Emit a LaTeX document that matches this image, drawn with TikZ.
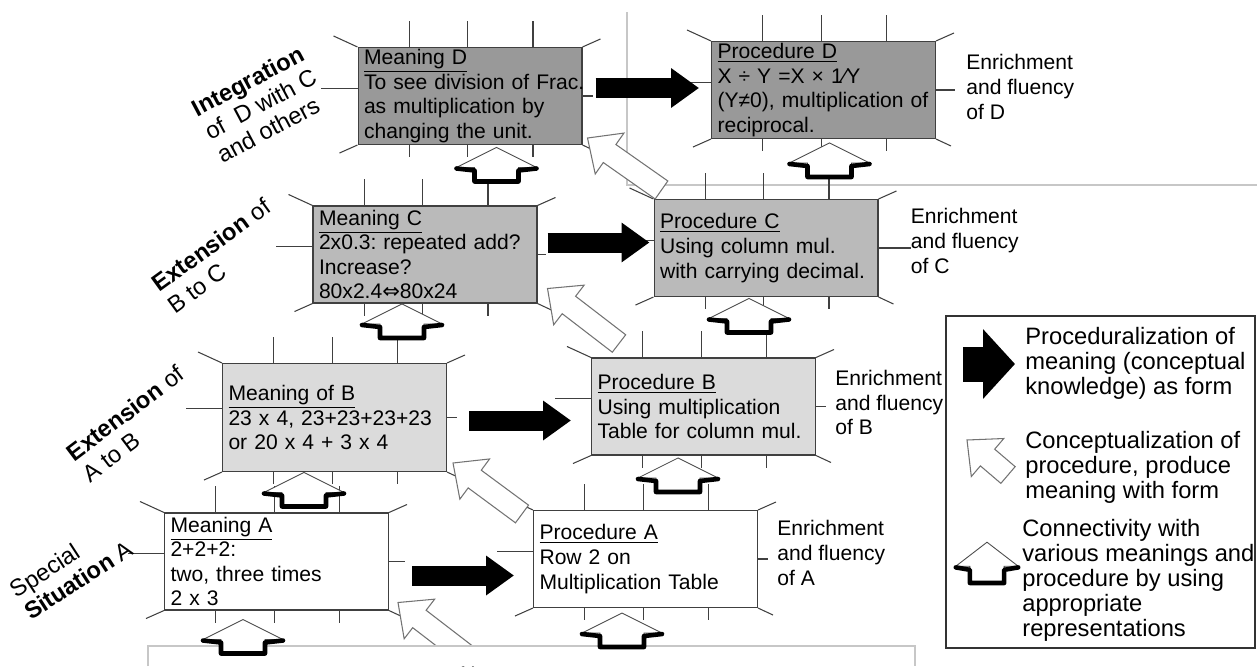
\documentclass[tikz,border=0pt]{standalone}
\usepackage{fontspec}
\setmainfont{Liberation Sans}
\newfontfamily\symfont{DejaVu Sans}
\usetikzlibrary{calc,arrows.meta}
\frenchspacing

\newcommand\boxfont{\fontsize{12}{14}\selectfont}
\newcommand\sidefont{\fontsize{12}{14}\selectfont}
\newcommand\legfont{\fontsize{13.5}{14.2}\selectfont}
\newcommand\lblfont{\fontsize{13.5}{15}\selectfont}

% rays round a box: #1 node, #2 length of the right ray
\newcommand\rays[2]{%
  \foreach \fr in {0.23,0.49,0.78}{
    \draw[ray] ($(#1.north west)!\fr!(#1.north east)$) -- ++(0,-26);
    \draw[ray] ($(#1.south west)!\fr!(#1.south east)$) -- ++(0,12);
  }
  \draw[ray] ($(#1.north west)!0.42!(#1.south west)$) -- ++(-36,0);
  \draw[ray] ($(#1.north east)!0.5!(#1.south east)$) -- ++(#2,0);
  \draw[ray] (#1.north west) -- ++(-24,-11);
  \draw[ray] (#1.north east) -- ++(18,-8);
  \draw[ray] (#1.south west) -- ++(-18,8);
  \draw[ray] (#1.south east) -- ++(15,7);
}

% white arrow: #1 tail, #2 tip
\newcommand\hollowarr[2]{%
  \coordinate (hb) at ($(#2)!0.54cm!(#1)$);
  \filldraw[hollow] ($(#1)!0.22cm!90:(#2)$) -- ($(hb)!0.22cm!90:(#2)$)
    -- ($(hb)!0.5cm!90:(#2)$) -- (#2) -- ($(hb)!0.5cm!-90:(#2)$)
    -- ($(hb)!0.22cm!-90:(#2)$) -- ($(#1)!0.22cm!-90:(#2)$) -- cycle;
}

\tikzset{
  box/.style={draw=black!75, line width=0.6pt, minimum width=4.48cm, minimum height=1.94cm,
    text width=4.24cm, inner xsep=0.12cm, inner ysep=0pt, align=left, font=\boxfont},
  ray/.style={draw=black!75, line width=0.6pt},
  blk/.style={line width=0.4cm, -{Triangle[width=0.76cm,length=0.56cm]}},
  blkbig/.style={line width=0.7cm, -{Triangle[width=1.36cm,length=0.64cm]}},
  hollow/.style={fill=white, draw=black!55, line width=0.6pt},
  frame/.style={draw=black!22, line width=0.8pt},
  side/.style={anchor=west, align=left, inner sep=0pt, font=\sidefont},
  leg/.style={anchor=west, align=left, inner sep=0pt, font=\legfont},
  lbl/.style={anchor=west, align=left, inner sep=0pt, font=\lblfont},
  uparr/.pic={
    \filldraw[fill=white, draw=black!70, line width=0.5pt]
      (0,-34) -- (40,-14) -- (22,-14) -- (22,0) -- (-22,0) -- (-22,-14) -- (-40,-14) -- cycle;
    \draw[line width=2.6pt, line join=round, line cap=round]
      (-40,-13) -- (-22,-11) -- (-22,0) -- (22,0) -- (22,-11) -- (40,-13);
  }
}

\begin{document}
\begin{tikzpicture}[x=0.02cm, y=-0.02cm]
  \useasboundingbox (0,0) rectangle (1257,666);
  % frames
  \draw[frame] (627,12) -- (627,185) -- (1257,185);

  % boxes
  \node[box, fill=black!40] (mD) at (470,96)
    {\underline{Meaning D}\\\mbox{To see division of Frac.}\\as multiplication by\\changing the unit.};
  \node[box, fill=black!40] (pD) at (823.5,90)
    {\underline{Procedure D}\\X ÷ Y =X × 1⁄Y\\\mbox{(Y≠0), multiplication of}\\reciprocal.};
  \node[box, fill=black!27] (mC) at (425,254.5)
    {\underline{Meaning C}\\2x0.3: repeated add?\\Increase?\\80x2.4{\symfont ⇔}80x24};
  \node[box, fill=black!27] (pC) at (766,248)
    {\underline{Procedure C}\\Using column mul.\\\mbox{with carrying decimal.}};
  \node[box, fill=black!14, minimum height=2.16cm] (mB) at (334.5,417.5)
    {\underline{Meaning of B}\\\mbox{23 x 4, 23+23+23+23}\\or 20 x 4 + 3 x 4};
  \node[box, fill=black!14] (pB) at (703.5,406.5)
    {\underline{Procedure B}\\Using multiplication\\\mbox{Table for column mul.}};
  \node[box, fill=white] (mA) at (276.5,561.5)
    {\underline{Meaning A}\\2+2+2:\\two, three times\\2 x 3};
  \node[box, fill=white] (pA) at (645.5,559)
    {\underline{Procedure A}\\Row 2 on\\Multiplication Table};

  % rays
  \rays{mD}{10}
  \rays{pD}{19}
  \rays{mC}{8}
  \rays{pC}{32}
  \rays{mB}{10}
  \rays{pB}{10}
  \rays{mA}{16}
  \rays{pA}{10}

  % meaning -> procedure
  \coordinate (dS) at ($(mD.east)+(13,-8)$);  \coordinate (dE) at ($(pD.west)+(-12,0)$);
  \coordinate (cS) at ($(mC.east)+(10,-12)$); \coordinate (cE) at ($(pC.west)+(-4,0)$);
  \coordinate (bS) at ($(mB.east)+(22,3)$);   \coordinate (bE) at ($(pB.west)+(-20,0)$);
  \coordinate (aS) at ($(mA.east)+(23,14)$);  \coordinate (aE) at ($(pA.west)+(-19,0)$);
  \draw[blk] (dS) -- (dS -| dE);
  \draw[blk] (cS) -- (cS -| cE);
  \draw[blk] (bS) -- (bS -| bE);
  \draw[blk] (aS) -- (aS -| aE);

  % procedure -> meaning
  \hollowarr{$(pC.north west)+(8,-9)$}{$(mD.south east)+(5,-7)$}
  \hollowarr{$(pB.north west)+(28,-14)$}{$(mC.south east)+(10,-15)$}
  \hollowarr{$(pA.north west)+(-11,4)$}{$(mB.south east)+(6,-9)$}
  \hollowarr{$(mA.south east)+(87,52)$}{$(mA.south east)+(9,-8)$}

  \filldraw[frame, fill=white] (148,666) -- (148,646) -- (915,646) -- (915,666);

  % connectivity
  \pic at ($(mC.north west)+(184,-24)$) {uparr};
  \pic at ($(pC.north west)+(176,-22)$) {uparr};
  \pic at ($(mB.north west)+(180,-25)$) {uparr};
  \pic at ($(pB.north west)+(158,-25)$) {uparr};
  \pic at ($(mA.north west)+(140,-6)$) {uparr};
  \pic at ($(pA.north west)+(145,-18)$) {uparr};
  \pic at ($(mA.south west)+(79,43)$) {uparr};
  \pic at ($(pA.south west)+(89,39)$) {uparr};

  % enrichment
  \node[side] (eD) at ($(pD.east)+(30,-3)$) {Enrichment\\and fluency\\of D};
  \node[side] (eC) at ($(pC.east)+(32,-7)$) {Enrichment\\and fluency\\of C};
  \node[side] (eB) at ($(pB.east)+(19,-4)$) {Enrichment\\and fluency\\of B};
  \node[side] (eA) at ($(pA.east)+(19,-6)$) {Enrichment\\and fluency\\of A};

  % stages
  \node[lbl, rotate=28] (tD) at (206,133) {\textbf{Integration}\\of\ \ D with C\\and others};
  \node[lbl, rotate=36] (tC) at (162,297) {\textbf{Extension} of\\B to C};
  \node[lbl, rotate=37] (tB) at (77,466) {\textbf{Extension} of\\A to B};
  \node[lbl, rotate=33] (tA) at (19,603) {Special\\\textbf{Situation} A};

  % legend
  \draw[black!80, line width=0.6pt] (946,316) rectangle (1255,648);
  \node[leg] (lg1) at (1025,363) {Proceduralization of\\meaning (conceptual\\knowledge) as form};
  \node[leg] (lg2) at (1025,467) {Conceptualization of\\procedure, produce\\meaning with form};
  \node[leg] (lg3) at (1022,580) {Connectivity with\\various meanings and\\procedure by using\\appropriate\\representations};
  \draw[blkbig] ($(lg1.west)+(-62,1)$) -- ($(lg1.west)+(-10,1)$);
  \hollowarr{$(lg2.west)+(-17,8)$}{$(lg2.west)+(-58,-27)$}
  \pic[xscale=0.78, yscale=1.2] at ($(lg3.west)+(-35,3)$) {uparr};
\end{tikzpicture}
\end{document}
